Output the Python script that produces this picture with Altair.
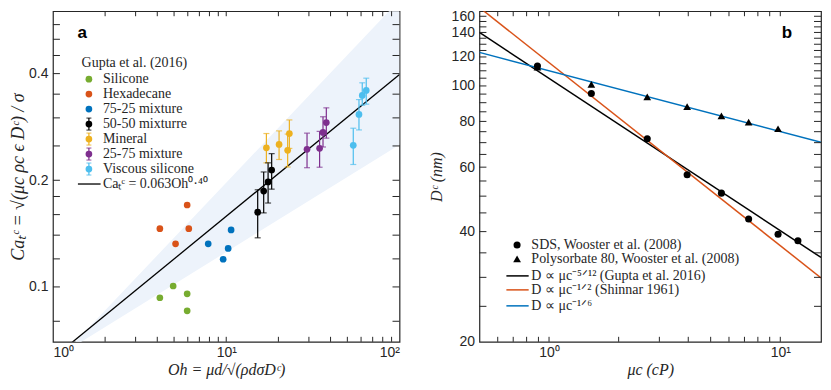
import altair as alt
import pandas as pd

# ---------------- Panel a data (Oh, Ca_t^c) ----------------
silicone_oh = [4.14, 4.94, 5.95, 5.95]
silicone_ca = [0.0932, 0.1006, 0.0956, 0.0856]
hexadecane_oh = [4.14, 5.10, 5.95, 6.08]
hexadecane_ca = [0.146, 0.1323, 0.1703, 0.146]
mix7525_oh = [7.87, 9.60, 10.26, 10.67]
mix7525_ca = [0.1323, 0.1197, 0.1284, 0.1448]
mix5050_oh = [15.19, 16.45, 17.44, 18.29]
mix5050_ca = [0.1626, 0.1864, 0.1979, 0.2138]
mix5050_lo = [0.1376, 0.1618, 0.1725, 0.1888]
mix5050_hi = [0.188, 0.2111, 0.224, 0.2378]
mineral_oh = [17.05, 20.18, 22.62, 23.14]
mineral_ca = [0.247, 0.2525, 0.243, 0.271]
mineral_lo = [0.224, 0.2289, 0.218, 0.246]
mineral_hi = [0.271, 0.2757, 0.27, 0.296]
mix2575_oh = [29.26, 34.58, 36.18, 37.81]
mix2575_ca = [0.2446, 0.2461, 0.2729, 0.2909]
mix2575_lo = [0.217, 0.2177, 0.2483, 0.263]
mix2575_hi = [0.2717, 0.2748, 0.3022, 0.3202]
viscous_oh = [54.09, 58.34, 60.95, 64.27]
viscous_ca = [0.251, 0.3068, 0.3472, 0.3585]
viscous_lo = [0.2216, 0.2774, 0.3257, 0.328]
viscous_hi = [0.2805, 0.3379, 0.3768, 0.3883]

fit_oh = [1.0, 100.0]
fit_ca = [0.063, 0.3975]
band_oh = [1.2, 100.0]
band_lo = [0.066, 0.252]
band_hi = [0.066, 0.645]

series_names = ["Silicone", "Hexadecane", "75-25 mixture", "50-50 mixturre",
                "Mineral", "25-75 mixture", "Viscous silicone"]
series_colors = ["#77AC30", "#D95319", "#0072BD", "#000000",
                 "#EDB120", "#7E2F8E", "#4DBEEE"]
fit_label = "Caₜᶜ = 0.063Oh⁰·⁴⁰"

# ---------------- Panel b data (mu_c, D^c) ----------------
sds_mu = [0.891, 1.524, 2.659, 3.956, 5.565, 7.298, 9.78, 11.92]
sds_d = [113.3, 95.4, 71.7, 57.2, 50.95, 43.3, 39.35, 37.76]
poly_mu = [0.891, 1.524, 2.659, 3.956, 5.565, 7.298, 9.78]
poly_d = [112.6, 101.0, 93.4, 87.8, 82.8, 79.6, 76.4]
line_mu = [0.5, 15.0]
line_black = [140.0, 34.0]
line_orange = [163.8, 29.9]
line_blue = [123.5, 70.2]
legend_b_labels = ["SDS, Wooster et al. (2008)",
                   "Polysorbate 80, Wooster et al. (2008)",
                   "D ∝ μc⁻⁵ᐟ¹² (Gupta et al. 2016)",
                   "D ∝ μc⁻¹ᐟ² (Shinnar 1961)",
                   "D ∝ μc⁻¹ᐟ⁶"]

# ticks
a_xticks = [2, 3, 4, 5, 6, 7, 8, 9, 10, 20, 30, 40, 50, 60, 70, 80, 90]
a_yticks = [0.08, 0.1, 0.12, 0.14, 0.16, 0.18, 0.2, 0.25, 0.3, 0.35, 0.4, 0.45, 0.5, 0.55]
b_xticks = [0.6, 0.7, 0.8, 0.9, 1, 2, 3, 4, 5, 6, 7, 8, 9, 10]
b_yticks = list(range(25, 160, 5))

AXC = "#262626"
A_W, A_H = 347, 331
B_W, B_H = 342, 331

# ---------------- build frames ----------------
all_oh = [silicone_oh, hexadecane_oh, mix7525_oh, mix5050_oh, mineral_oh, mix2575_oh, viscous_oh]
all_ca = [silicone_ca, hexadecane_ca, mix7525_ca, mix5050_ca, mineral_ca, mix2575_ca, viscous_ca]
rows = []
for name, col, oh, ca in zip(series_names, series_colors, all_oh, all_ca):
    for o, c in zip(oh, ca):
        rows.append({"s": name, "col": col, "oh": o, "ca": c})
pts_a = pd.DataFrame(rows)

err_rows = []
for col, oh, lo, hi in [("#000000", mix5050_oh, mix5050_lo, mix5050_hi),
                        ("#EDB120", mineral_oh, mineral_lo, mineral_hi),
                        ("#7E2F8E", mix2575_oh, mix2575_lo, mix2575_hi),
                        ("#4DBEEE", viscous_oh, viscous_lo, viscous_hi)]:
    for o, l, h in zip(oh, lo, hi):
        err_rows.append({"col": col, "oh": o, "lo": l, "hi": h})
err_a = pd.DataFrame(err_rows)
caps_a = pd.concat([err_a.assign(v=err_a["lo"]), err_a.assign(v=err_a["hi"])])

xa = alt.Scale(type="log", domain=[1, 100], nice=False)
ya = alt.Scale(type="log", domain=[0.07, 0.6], nice=False)

band = alt.Chart(pd.DataFrame({"oh": band_oh, "lo": band_lo, "hi": band_hi})).mark_area(
    color="#EDF3FB", clip=True).encode(
    x=alt.X("oh:Q", scale=xa,
            axis=alt.Axis(values=[1, 10, 100],
                          labelExpr="datum.value == 1 ? '10⁰' : datum.value == 10 ? '10¹' : '10²'",
                          title="Oh = μd/√(ρdσDᶜ)", labelPadding=4, titlePadding=2)),
    y=alt.Y("lo:Q", scale=ya,
            axis=alt.Axis(values=[0.1, 0.2, 0.4], format=".1f",
                          title="Caₜᶜ  =  √(μc ρc ϵ Dᶜ) / σ", titleFontSize=18,
                          labelPadding=5, titlePadding=1)),
    y2="hi:Q")

fit = alt.Chart(pd.DataFrame({"oh": fit_oh, "ca": fit_ca})).mark_line(
    color="black", strokeWidth=1.3, clip=True).encode(x="oh:Q", y="ca:Q")

ebar = alt.Chart(err_a).mark_rule(strokeWidth=1.2).encode(
    x="oh:Q", y="lo:Q", y2="hi:Q", color=alt.Color("col:N", scale=None))
ecap = alt.Chart(caps_a).mark_tick(orient="horizontal", size=6, thickness=1.2).encode(
    x="oh:Q", y="v:Q", color=alt.Color("col:N", scale=None))
dots = alt.Chart(pts_a).mark_circle(size=45, opacity=1).encode(
    x="oh:Q", y="ca:Q", color=alt.Color("col:N", scale=None))

def tick_layers(xt, yt, W, H):
    ylen, xlen = 7, 5
    t1 = alt.Chart(pd.DataFrame({"v": yt})).mark_rule(color=AXC).encode(
        y="v:Q", x=alt.value(0), x2=alt.value(ylen))
    t2 = alt.Chart(pd.DataFrame({"v": yt})).mark_rule(color=AXC).encode(
        y="v:Q", x=alt.value(W - ylen), x2=alt.value(W))
    t3 = alt.Chart(pd.DataFrame({"v": xt})).mark_rule(color=AXC).encode(
        x="v:Q", y=alt.value(H - xlen), y2=alt.value(H))
    t4 = alt.Chart(pd.DataFrame({"v": xt})).mark_rule(color=AXC).encode(
        x="v:Q", y=alt.value(0), y2=alt.value(xlen))
    return [t1, t2, t3, t4]

# legend a
LA_Y0, LA_DY = 68, 15
leg_a = pd.DataFrame({
    "label": series_names + [fit_label],
    "col": series_colors + ["#000000"],
    "kind": ["dot"] * 3 + ["err"] * 4 + ["line"],
})
leg_a["ly"] = [LA_Y0 + LA_DY * i for i in range(len(leg_a))]
leg_a["ly1"] = leg_a["ly"] - 6
leg_a["ly2"] = leg_a["ly"] + 6
la_title = alt.Chart(pd.DataFrame({"t": ["Gupta et al. (2016)"]})).mark_text(
    align="left", baseline="middle", font="Liberation Serif", fontSize=14, color=AXC).encode(
    text="t:N", x=alt.value(28.7), y=alt.value(LA_Y0 - 16.5))
la_text = alt.Chart(leg_a).mark_text(
    align="left", baseline="middle", font="Liberation Serif", fontSize=14, color=AXC).encode(
    text="label:N", x=alt.value(50), y=alt.Y("ly:Q", scale=None))
la_err = alt.Chart(leg_a[leg_a.kind == "err"]).mark_rule(strokeWidth=1.2).encode(
    x=alt.value(36), y=alt.Y("ly1:Q", scale=None), y2="ly2:Q", color=alt.Color("col:N", scale=None))
la_cap1 = alt.Chart(leg_a[leg_a.kind == "err"]).mark_tick(orient="horizontal", size=5, thickness=1.2).encode(
    x=alt.value(36), y=alt.Y("ly1:Q", scale=None), color=alt.Color("col:N", scale=None))
la_cap2 = alt.Chart(leg_a[leg_a.kind == "err"]).mark_tick(orient="horizontal", size=5, thickness=1.2).encode(
    x=alt.value(36), y=alt.Y("ly2:Q", scale=None), color=alt.Color("col:N", scale=None))
la_dot = alt.Chart(leg_a[leg_a.kind != "line"]).mark_circle(size=45, opacity=1).encode(
    x=alt.value(36), y=alt.Y("ly:Q", scale=None), color=alt.Color("col:N", scale=None))
la_line = alt.Chart(leg_a[leg_a.kind == "line"]).mark_rule(strokeWidth=1.3).encode(
    x=alt.value(25), x2=alt.value(47.7), y=alt.Y("ly:Q", scale=None), color=alt.Color("col:N", scale=None))
lab_a = alt.Chart(pd.DataFrame({"t": ["a"]})).mark_text(
    font="Liberation Sans", fontWeight="bold", fontSize=17, color="black").encode(
    text="t:N", x=alt.value(29.4), y=alt.value(22))

panel_a = alt.layer(band, fit, ebar, ecap, dots, *tick_layers(a_xticks, a_yticks, A_W, A_H),
                    la_title, la_text, la_err, la_cap1, la_cap2, la_dot, la_line, lab_a
                    ).properties(width=A_W, height=A_H)

# ---------------- panel b ----------------
xb = alt.Scale(type="log", domain=[0.5, 15], nice=False)
yb = alt.Scale(type="log", domain=[20, 160], nice=False)
lines_b = pd.DataFrame({
    "mu": line_mu * 3,
    "d": line_black + line_orange + line_blue,
    "s": ["k", "k", "o", "o", "b", "b"],
    "col": ["#000000"] * 2 + ["#D95319"] * 2 + ["#0072BD"] * 2,
})
lb = alt.Chart(lines_b).mark_line(strokeWidth=1.5, clip=True).encode(
    x=alt.X("mu:Q", scale=xb,
            axis=alt.Axis(values=[1, 10], labelExpr="datum.value == 1 ? '10⁰' : '10¹'",
                          title="μc (cP)", labelPadding=4, titlePadding=2)),
    y=alt.Y("d:Q", scale=yb,
            axis=alt.Axis(values=[20, 40, 60, 80, 100, 120, 140, 160], format="d",
                          title="Dᶜ (nm)", labelPadding=5, titlePadding=7,
                          labelOffset={"condition": {"test": "datum.value >= 160", "value": 5},
                                       "value": 0})),
    color=alt.Color("col:N", scale=None), detail="s:N")
sds = alt.Chart(pd.DataFrame({"mu": sds_mu, "d": sds_d})).mark_circle(
    size=50, opacity=1, color="black").encode(x="mu:Q", y="d:Q")
poly = alt.Chart(pd.DataFrame({"mu": poly_mu, "d": poly_d})).mark_point(
    shape="triangle-up", filled=True, size=60, opacity=1, color="black").encode(x="mu:Q", y="d:Q")

leg_b = pd.DataFrame({
    "label": legend_b_labels,
    "col": ["#000000", "#000000", "#000000", "#D95319", "#0072BD"],
    "ly": [234, 248, 265, 279, 295],
})
lbt = alt.Chart(leg_b).mark_text(
    align="left", baseline="middle", font="Liberation Serif", fontSize=14, color=AXC).encode(
    text="label:N", x=alt.value(52), y=alt.Y("ly:Q", scale=None))
lb_c = alt.Chart(leg_b.iloc[[0]]).mark_circle(size=50, opacity=1, color="black").encode(
    x=alt.value(37.7), y=alt.Y("ly:Q", scale=None))
lb_t = alt.Chart(leg_b.iloc[[1]]).mark_point(shape="triangle-up", filled=True, size=60,
                                             opacity=1, color="black").encode(
    x=alt.value(37.7), y=alt.Y("ly:Q", scale=None))
lb_l = alt.Chart(leg_b.iloc[2:]).mark_rule(strokeWidth=1.5).encode(
    x=alt.value(27), x2=alt.value(49.3), y=alt.Y("ly:Q", scale=None),
    color=alt.Color("col:N", scale=None))
lab_b = alt.Chart(pd.DataFrame({"t": ["b"]})).mark_text(
    font="Liberation Sans", fontWeight="bold", fontSize=17, color="black").encode(
    text="t:N", x=alt.value(308), y=alt.value(22))

panel_b = alt.layer(lb, sds, poly, *tick_layers(b_xticks, b_yticks, B_W, B_H),
                    lbt, lb_c, lb_t, lb_l, lab_b).properties(width=B_W, height=B_H)

chart = alt.hconcat(panel_a, panel_b, spacing=26).properties(
    padding={"left": 0, "top": 0, "right": 0, "bottom": 0},
    background="white",
).configure_view(stroke=AXC, strokeWidth=1.2).configure_axis(
    domain=False, ticks=False, grid=False,
    labelFont="Liberation Sans", labelFontSize=14, labelColor=AXC,
    titleFont="Liberation Serif", titleFontStyle="italic", titleFontWeight="normal",
    titleFontSize=16, titleColor=AXC,
)

chart.save("out.html", embed_options={"renderer": "svg", "actions": False})
